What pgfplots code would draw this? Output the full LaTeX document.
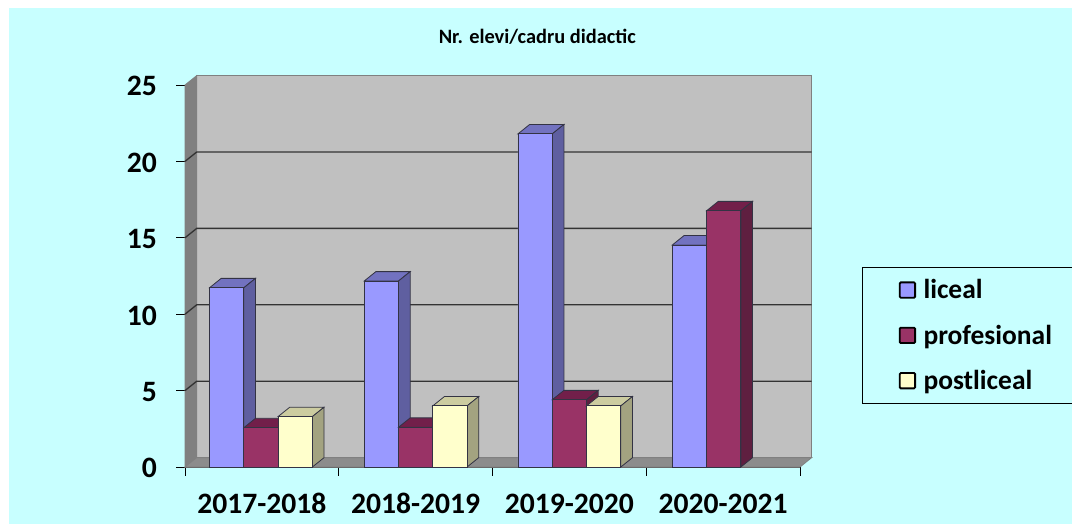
\documentclass[border=0pt]{standalone}
\usepackage{fontspec}
\setmainfont{Carlito}
\usepackage{pgfplots}
\pgfplotsset{compat=1.18}
\definecolor{bgc}{HTML}{C8FFFF}
\definecolor{wallc}{HTML}{C0C0C0}
\definecolor{lwallc}{HTML}{808080}
\definecolor{floorc}{HTML}{8C8C8C}
\definecolor{lic}{HTML}{9999FF}
\definecolor{licT}{HTML}{7272C0}
\definecolor{licS}{HTML}{5F5FA0}
\definecolor{pro}{HTML}{993366}
\definecolor{proT}{HTML}{721F4A}
\definecolor{proS}{HTML}{5F1F40}
\definecolor{pos}{HTML}{FFFFCC}
\definecolor{posT}{HTML}{CCCCA0}
\definecolor{posS}{HTML}{A3A380}
\definecolor{edgec}{HTML}{333344}
% side and top faces of one bar: centre, value, top colour, side colour
\newcommand\barfaces[4]{%
  \pgfmathsetmacro\xa{#1-0.11155}\pgfmathsetmacro\xb{#1+0.11155}%
  \pgfmathsetmacro\xc{\xa+0.0761}\pgfmathsetmacro\xd{\xb+0.0761}%
  \pgfmathsetmacro\yt{#2+0.615}%
  \edef\tmp{\noexpand\addplot[fill=#3,draw=edgec,line width=0.6pt,forget plot] coordinates {(\xa,#2) (\xc,\yt) (\xd,\yt) (\xb,#2)} -- cycle;
  \noexpand\addplot[fill=#4,draw=edgec,line width=0.6pt,forget plot] coordinates {(\xb,0) (\xd,0.615) (\xd,\yt) (\xb,#2)} -- cycle;}%
  \tmp}
\begin{document}
\begin{tikzpicture}
\fill[white] (0,0) rectangle (804pt,-393pt);
\useasboundingbox (0,0) rectangle (804pt,-393pt);
\fill[bgc] (6.75pt,-6pt) rectangle (804pt,-393pt);
\node[font=\bfseries\fontsize{15.3pt}{18pt}\selectfont] at (403pt,-27.5pt) {Nr. elevi/cadru didactic};
\begin{axis}[
  at={(138.75pt,-350.25pt)},anchor=south west,
  scale only axis,width=461.25pt,height=286.5pt,
  xmin=0,xmax=4,ymin=0,ymax=25,clip=false,
  axis x line*=bottom,axis y line*=left,
  axis line style={draw=gray!70!black,line width=0.5pt,-},
  xtick={0,1,2,3,4},
  x tick label as interval,
  xticklabels={2017-2018,2018-2019,2019-2020,2020-2021},
  ytick={0,5,10,15,20,25},
  tick align=outside,
  major tick length=6.5pt,
  tick style={draw=black,line width=0.5pt},
  /pgf/number format/assume math mode=true,
  ticklabel style={font=\bfseries\fontsize{22.2pt}{26pt}\selectfont},
  xticklabel style={yshift=-10pt,text height=15pt,text depth=0pt},
  yticklabel style={xshift=-11pt,yshift=-1pt},
  legend style={at={(axis description cs:1.1013,0.5228)},anchor=north west,
    draw=black,line width=0.6pt,fill=none,inner sep=0pt,
    font=\bfseries\fontsize{20.6pt}{24pt}\selectfont,
    cells={anchor=west},row sep=0pt,
    nodes={minimum height=34pt,inner sep=0pt,text width=118pt,align=left,xshift=4.5pt}},
  legend image code/.code={
    \path (0,0) (45pt,0);
    \draw[#1,draw=black,line width=1.4pt,rounded corners=0.8pt] (27.5pt,-5.5pt) rectangle ++(11.5pt,11.5pt);
  },
]
% walls and floor
\addplot[fill=wallc,draw=gray,line width=0.6pt,forget plot] coordinates {(0.0761,0.615) (4.0761,0.615) (4.0761,25.615) (0.0761,25.615)} -- cycle;
\addplot[fill=lwallc,draw=gray,line width=0.6pt,forget plot] coordinates {(0,0) (0.0761,0.615) (0.0761,25.615) (0,25)} -- cycle;
\addplot[fill=floorc,draw=gray,line width=0.6pt,forget plot] coordinates {(0,0) (4,0) (4.0761,0.615) (0.0761,0.615)} -- cycle;
% grid lines
\addplot[draw=black!80,line width=1pt,forget plot] coordinates {(0,5) (0.0761,5.615) (4.0761,5.615)};
\addplot[draw=black!80,line width=1pt,forget plot] coordinates {(0,10) (0.0761,10.615) (4.0761,10.615)};
\addplot[draw=black!80,line width=1pt,forget plot] coordinates {(0,15) (0.0761,15.615) (4.0761,15.615)};
\addplot[draw=black!80,line width=1pt,forget plot] coordinates {(0,20) (0.0761,20.615) (4.0761,20.615)};
% liceal
\barfaces{0.271}{11.73}{licT}{licS}
\barfaces{1.2769}{12.17}{licT}{licS}
\barfaces{2.2769}{21.8}{licT}{licS}
\barfaces{3.281}{14.53}{licT}{licS}
\addplot[ybar,bar shift=0pt,bar width=0.2231,fill=lic,draw=edgec,line width=0.6pt]
  coordinates {(0.271,11.73) (1.2769,12.17) (2.2769,21.8) (3.281,14.53)};
\addlegendentry{liceal}
% profesional
\barfaces{0.494}{2.57}{proT}{proS}
\barfaces{1.5}{2.6}{proT}{proS}
\barfaces{2.5}{4.4}{proT}{proS}
\barfaces{3.504}{16.77}{proT}{proS}
\addplot[ybar,bar shift=0pt,bar width=0.2231,fill=pro,draw=edgec,line width=0.6pt]
  coordinates {(0.494,2.57) (1.5,2.6) (2.5,4.4) (3.504,16.77)};
\addlegendentry{profesional}
% postliceal
\barfaces{0.717}{3.3}{posT}{posS}
\barfaces{1.7231}{4.0}{posT}{posS}
\barfaces{2.7231}{4.0}{posT}{posS}
\addplot[ybar,bar shift=0pt,bar width=0.2231,fill=pos,draw=edgec,line width=0.6pt]
  coordinates {(0.717,3.3) (1.7231,4.0) (2.7231,4.0)};
\addlegendentry{postliceal}
\end{axis}
\end{tikzpicture}
\end{document}
